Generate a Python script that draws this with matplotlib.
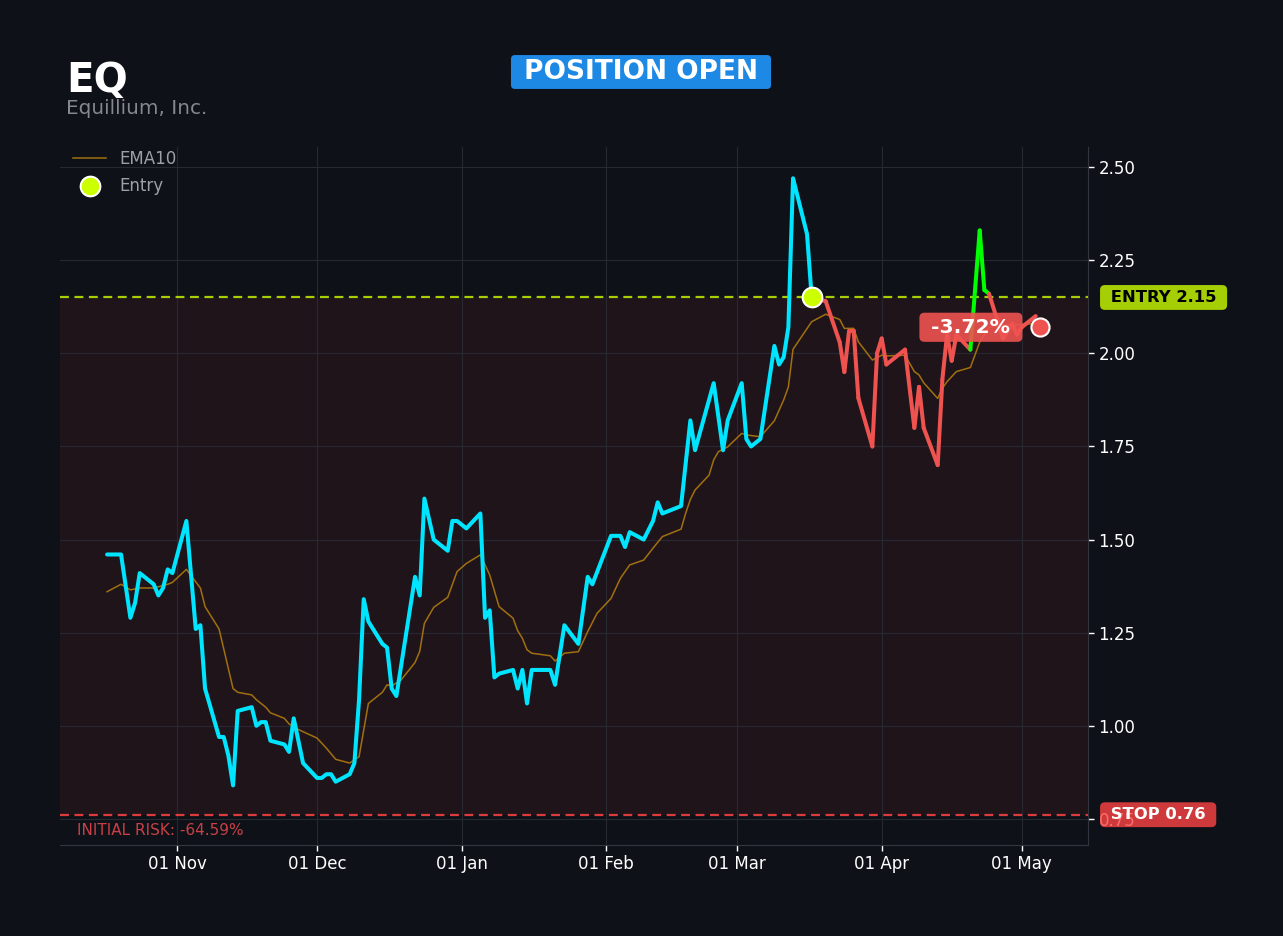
import matplotlib
matplotlib.use("Agg")
import matplotlib.pyplot as plt
import matplotlib.dates as mdates
import matplotlib.transforms as mtransforms
import pandas as pd

ticker = "EQ"
company = "Equillium, Inc."
status = "POSITION OPEN"
entry_price = 2.15
stop_price = 0.7613
last_price = 2.07
last_date = "2025-05-05"
entry_date = "2025-03-17"

price_dates = [
    "2024-10-17", "2024-10-20", "2024-10-22", "2024-10-23", "2024-10-24", "2024-10-27",
    "2024-10-28", "2024-10-29", "2024-10-30", "2024-10-31", "2024-11-03", "2024-11-05",
    "2024-11-06", "2024-11-07", "2024-11-10", "2024-11-11", "2024-11-12", "2024-11-13",
    "2024-11-14", "2024-11-17", "2024-11-18", "2024-11-19", "2024-11-20", "2024-11-21",
    "2024-11-24", "2024-11-25", "2024-11-26", "2024-11-28", "2024-12-01", "2024-12-02",
    "2024-12-03", "2024-12-04", "2024-12-05", "2024-12-08", "2024-12-09", "2024-12-10",
    "2024-12-11", "2024-12-12", "2024-12-15", "2024-12-16", "2024-12-17", "2024-12-18",
    "2024-12-22", "2024-12-23", "2024-12-24", "2024-12-26", "2024-12-29", "2024-12-30",
    "2024-12-31", "2025-01-02", "2025-01-05", "2025-01-06", "2025-01-07", "2025-01-08",
    "2025-01-09", "2025-01-12", "2025-01-13", "2025-01-14", "2025-01-15", "2025-01-16",
    "2025-01-20", "2025-01-21", "2025-01-23", "2025-01-26", "2025-01-28", "2025-01-29",
    "2025-02-02", "2025-02-04", "2025-02-05", "2025-02-06", "2025-02-09", "2025-02-11",
    "2025-02-12", "2025-02-13", "2025-02-17", "2025-02-19", "2025-02-20", "2025-02-24",
    "2025-02-26", "2025-02-27", "2025-03-02", "2025-03-03", "2025-03-04", "2025-03-06",
    "2025-03-09", "2025-03-10", "2025-03-11", "2025-03-12", "2025-03-13", "2025-03-16",
    "2025-03-17", "2025-03-20", "2025-03-23", "2025-03-24", "2025-03-25", "2025-03-26",
    "2025-03-27", "2025-03-30", "2025-03-31", "2025-04-01", "2025-04-02", "2025-04-06",
    "2025-04-08", "2025-04-09", "2025-04-10", "2025-04-13", "2025-04-14", "2025-04-15",
    "2025-04-16", "2025-04-17", "2025-04-20", "2025-04-22", "2025-04-23", "2025-04-24",
    "2025-04-27", "2025-04-29", "2025-04-30", "2025-05-01", "2025-05-04",
]
price_values = [
    1.46, 1.46, 1.29, 1.33, 1.41, 1.38,
    1.35, 1.37, 1.42, 1.41, 1.55, 1.26,
    1.27, 1.10, 0.97, 0.97, 0.92, 0.84,
    1.04, 1.05, 1.00, 1.01, 1.01, 0.96,
    0.95, 0.93, 1.02, 0.90, 0.86, 0.86,
    0.87, 0.87, 0.85, 0.87, 0.90, 1.07,
    1.34, 1.28, 1.22, 1.21, 1.10, 1.08,
    1.40, 1.35, 1.61, 1.50, 1.47, 1.55,
    1.55, 1.53, 1.57, 1.29, 1.31, 1.13,
    1.14, 1.15, 1.10, 1.15, 1.06, 1.15,
    1.15, 1.11, 1.27, 1.22, 1.40, 1.38,
    1.51, 1.51, 1.48, 1.52, 1.50, 1.55,
    1.60, 1.57, 1.59, 1.82, 1.74, 1.92,
    1.74, 1.82, 1.92, 1.77, 1.75, 1.77,
    2.02, 1.97, 1.99, 2.07, 2.47, 2.32,
    2.15, 2.14, 2.03, 1.95, 2.06, 2.06,
    1.88, 1.75, 2.00, 2.04, 1.97, 2.01,
    1.80, 1.91, 1.80, 1.70, 1.93, 2.05,
    1.98, 2.05, 2.01, 2.33, 2.17, 2.16,
    2.04, 2.08, 2.05, 2.07, 2.10,
]

ema_dates = [
    "2024-10-17", "2024-10-20", "2024-10-22", "2024-10-24", "2024-10-27", "2024-10-30",
    "2024-10-31", "2024-11-03", "2024-11-06", "2024-11-07", "2024-11-10", "2024-11-13",
    "2024-11-14", "2024-11-17", "2024-11-18", "2024-11-20", "2024-11-21", "2024-11-24",
    "2024-11-25", "2024-11-27", "2024-12-01", "2024-12-03", "2024-12-05", "2024-12-08",
    "2024-12-10", "2024-12-12", "2024-12-15", "2024-12-16", "2024-12-17", "2024-12-19",
    "2024-12-22", "2024-12-23", "2024-12-24", "2024-12-26", "2024-12-29", "2024-12-31",
    "2025-01-02", "2025-01-05", "2025-01-07", "2025-01-09", "2025-01-12", "2025-01-13",
    "2025-01-14", "2025-01-15", "2025-01-16", "2025-01-20", "2025-01-21", "2025-01-23",
    "2025-01-26", "2025-01-28", "2025-01-30", "2025-02-02", "2025-02-04", "2025-02-06",
    "2025-02-09", "2025-02-11", "2025-02-13", "2025-02-17", "2025-02-18", "2025-02-19",
    "2025-02-20", "2025-02-23", "2025-02-24", "2025-02-25", "2025-02-27", "2025-03-02",
    "2025-03-03", "2025-03-06", "2025-03-09", "2025-03-11", "2025-03-12", "2025-03-13",
    "2025-03-17", "2025-03-20", "2025-03-23", "2025-03-24", "2025-03-26", "2025-03-27",
    "2025-03-30", "2025-04-01", "2025-04-02", "2025-04-06", "2025-04-08", "2025-04-09",
    "2025-04-10", "2025-04-13", "2025-04-14", "2025-04-15", "2025-04-17", "2025-04-20",
    "2025-04-22", "2025-04-24", "2025-04-27", "2025-05-04",
]
ema_values = [
    1.360, 1.380, 1.365, 1.370, 1.370, 1.380,
    1.385, 1.420, 1.370, 1.320, 1.260, 1.100,
    1.090, 1.083, 1.070, 1.050, 1.035, 1.020,
    1.005, 0.990, 0.967, 0.940, 0.910, 0.900,
    0.917, 1.060, 1.090, 1.110, 1.107, 1.123,
    1.170, 1.200, 1.275, 1.318, 1.345, 1.414,
    1.436, 1.459, 1.405, 1.320, 1.289, 1.255,
    1.235, 1.204, 1.195, 1.188, 1.174, 1.195,
    1.199, 1.253, 1.302, 1.342, 1.396, 1.432,
    1.445, 1.477, 1.508, 1.528, 1.571, 1.608,
    1.633, 1.673, 1.714, 1.736, 1.749, 1.785,
    1.781, 1.776, 1.819, 1.875, 1.910, 2.011,
    2.085, 2.105, 2.091, 2.067, 2.067, 2.031,
    1.982, 1.995, 1.993, 1.995, 1.951, 1.942,
    1.921, 1.879, 1.906, 1.924, 1.951, 1.962,
    2.030, 2.070, 2.075, 2.080,
]

BG = "#0e1118"
CYAN = "#00e5ff"
RED = "#ef5350"
GREEN = "#00ff00"
LIME = "#ccff00"
STOP_RED = "#ff4444"
EMA_COL = "#a0700e"

px = pd.to_datetime(price_dates)
ex = pd.to_datetime(ema_dates)
t_entry = pd.Timestamp(entry_date)

fig = plt.figure(figsize=(12.83, 9.36), dpi=100, facecolor=BG)
ax = fig.add_axes([60 / 1283, 1 - 845 / 936, 1028 / 1283, 698 / 936])
ax.set_facecolor(BG)

# risk zone between stop and entry
ax.axhspan(stop_price, entry_price, color=STOP_RED, alpha=0.08, lw=0, zorder=0)
ax.axhline(entry_price, color=LIME, alpha=0.8, lw=1.6, dashes=(4, 2.5), zorder=2)
ax.axhline(stop_price, color=STOP_RED, alpha=0.85, lw=1.6, dashes=(4, 2.5), zorder=2)

ema_line, = ax.plot(ex, ema_values, color=EMA_COL, lw=1.1, label="EMA10", zorder=3)

# price before entry
n_entry = list(px).index(t_entry)
ax.plot(px[:n_entry + 1], price_values[:n_entry + 1], color=CYAN, lw=2.9,
        solid_capstyle="round", zorder=4)
# price after entry, green above entry, red below
for i in range(n_entry, len(px) - 1):
    c = GREEN if price_values[i + 1] > entry_price else RED
    ax.plot(px[i:i + 2], price_values[i:i + 2], color=c, lw=2.9,
            solid_capstyle="round", zorder=4)

entry_pt = ax.scatter([t_entry], [entry_price], s=200, color=LIME, edgecolor="white",
                      linewidth=1.5, zorder=6, label="Entry")
ax.scatter([pd.Timestamp(last_date)], [last_price], s=170, color=RED, edgecolor="white",
           linewidth=1.5, zorder=6)

pnl = (last_price / entry_price - 1) * 100
ax.annotate(f" {pnl:.2f}% ", xy=(pd.Timestamp(last_date), last_price), xytext=(-50, 0),
            textcoords="offset points", ha="center", va="center", color="white",
            fontsize=14.6, fontweight="bold", zorder=7,
            bbox=dict(boxstyle="round,pad=0.25", fc=RED, ec="none", alpha=0.9))

trans = mtransforms.blended_transform_factory(ax.transAxes, ax.transData)
risk = (stop_price / entry_price - 1) * 100
ax.text(0.0165, 0.718, f"INITIAL RISK: {risk:.2f}%", transform=trans,
        color="#c94045", fontsize=11, ha="left", va="center")

ax.text(1.0165, entry_price, f" ENTRY {entry_price:.2f} ", transform=trans, ha="left",
        va="center", fontsize=11.8, fontweight="bold", color="black", clip_on=False, zorder=8,
        bbox=dict(boxstyle="round,pad=0.3", fc=LIME, ec="none", alpha=0.8))
ax.text(1.0165, stop_price, f" STOP {stop_price:.2f} ", transform=trans, ha="left",
        va="center", fontsize=11.8, fontweight="bold", color="white", clip_on=False, zorder=8,
        bbox=dict(boxstyle="round,pad=0.3", fc=STOP_RED, ec="none", alpha=0.8))

ax.set_xlim(pd.Timestamp("2024-10-06 22:00"), pd.Timestamp("2025-05-15 05:00"))
ax.set_ylim(0.68, 2.554)
ax.yaxis.tick_right()
ax.set_yticks([0.75, 1.0, 1.25, 1.5, 1.75, 2.0, 2.25, 2.5])
ax.yaxis.set_major_formatter(plt.FormatStrFormatter("%.2f"))
ax.xaxis.set_major_locator(mdates.MonthLocator())
ax.xaxis.set_major_formatter(mdates.DateFormatter("%d %b"))
ax.tick_params(colors="white", labelsize=12, length=4, width=1)
ax.grid(True, color="#262930", lw=0.8)
ax.set_axisbelow(True)
for s in ["top", "left"]:
    ax.spines[s].set_visible(False)
for s in ["bottom", "right"]:
    ax.spines[s].set_color("#33363e")

leg = ax.legend(handles=[ema_line, entry_pt], loc="upper left", frameon=False,
                fontsize=12, labelcolor="#9da0a6", borderaxespad=0,
                bbox_to_anchor=(0.006, 1.005))

fig.text(66 / 1283, 1 - 92 / 936, ticker, color="white", fontsize=29, fontweight="bold",
         va="baseline", ha="left")
fig.text(66 / 1283, 1 - 114 / 936, company, color="#85888f", fontsize=14.4, va="baseline",
         ha="left")
fig.text(641 / 1283, 1 - 72 / 936, f" {status} ", color="white", fontsize=19,
         fontweight="bold", ha="center", va="center",
         bbox=dict(boxstyle="round,pad=0.15", fc="#1e88e5", ec="none"))

fig.savefig("out.png", dpi=100, facecolor=BG)
